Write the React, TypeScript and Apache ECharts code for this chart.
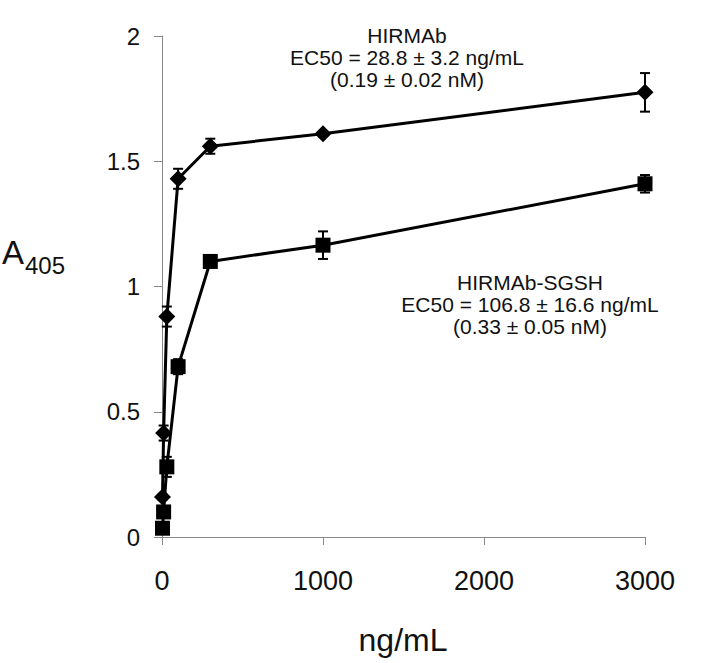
import React, { useEffect, useRef } from "react";
import * as echarts from "echarts";

// concentrations (ng/mL)
const concHIRMAb = [3, 10, 30, 100, 300, 1000, 3000];
const a405HIRMAb = [0.16, 0.415, 0.88, 1.43, 1.56, 1.61, 1.775];
const errHIRMAb = [0.01, 0.03, 0.04, 0.04, 0.03, 0.01, 0.077];

const concSGSH = [3, 10, 30, 100, 300, 1000, 3000];
const a405SGSH = [0.035, 0.1, 0.28, 0.68, 1.1, 1.165, 1.41];
const errSGSH = [0.01, 0.01, 0.04, 0.03, 0.02, 0.055, 0.035];

const xTicks = [0, 1000, 2000, 3000];
const yTicks = [0, 0.5, 1, 1.5, 2];

const FONT = "Arial, 'Liberation Sans', Helvetica, sans-serif";

function errData(xs: number[], ys: number[], es: number[]) {
  return xs.map((x, i) => [x, ys[i] - es[i], ys[i] + es[i]]);
}

function errRender(params: any, api: any) {
  const x = api.value(0);
  const lo = api.coord([x, api.value(1)]);
  const hi = api.coord([x, api.value(2)]);
  const hw = 5;
  const st = { stroke: "#000", lineWidth: 2 };
  return {
    type: "group",
    children: [
      { type: "line", shape: { x1: lo[0], y1: lo[1], x2: hi[0], y2: hi[1] }, style: st },
      { type: "line", shape: { x1: lo[0] - hw, y1: lo[1], x2: lo[0] + hw, y2: lo[1] }, style: st },
      { type: "line", shape: { x1: hi[0] - hw, y1: hi[1], x2: hi[0] + hw, y2: hi[1] }, style: st },
    ],
  };
}

export default function App() {
  const ref = useRef<HTMLDivElement>(null);
  useEffect(() => {
    if (!ref.current) return;
    const chart = echarts.init(ref.current, null, { renderer: "svg" });
    const txt = (s: string, x: number, y: number, size: number, align = "center") => ({
      type: "text",
      x,
      y,
      style: {
        text: s,
        fontSize: size,
        fontFamily: FONT,
        fill: "#111",
        textAlign: align,
        textVerticalAlign: "middle",
      },
    });
    chart.setOption({
      animation: false,
      backgroundColor: "#fff",
      grid: { left: 162, top: 36, width: 483, height: 501, containLabel: false },
      xAxis: {
        type: "value",
        min: xTicks[0],
        max: xTicks[xTicks.length - 1],
        interval: 1000,
        axisLine: { show: true, lineStyle: { color: "#888", width: 1 } },
        axisTick: { show: true, length: 8, lineStyle: { color: "#888" } },
        axisLabel: {
          color: "#111",
          fontSize: 27,
          fontFamily: FONT,
          margin: 30,
          formatter: (v: number) => String(v),
        },
        splitLine: { show: false },
      },
      yAxis: {
        type: "value",
        min: yTicks[0],
        max: yTicks[yTicks.length - 1],
        interval: 0.5,
        axisLine: { show: true, lineStyle: { color: "#888", width: 1 } },
        axisTick: { show: true, length: 8, lineStyle: { color: "#888" } },
        axisLabel: {
          color: "#111",
          fontSize: 24,
          fontFamily: FONT,
          margin: 22,
          formatter: (v: number) => String(v),
        },
        splitLine: { show: false },
      },
      series: [
        {
          type: "custom",
          renderItem: errRender,
          data: errData(concHIRMAb, a405HIRMAb, errHIRMAb),
          encode: { x: 0, y: [1, 2] },
          z: 1,
        },
        {
          type: "custom",
          renderItem: errRender,
          data: errData(concSGSH, a405SGSH, errSGSH),
          encode: { x: 0, y: [1, 2] },
          z: 1,
        },
        {
          type: "line",
          name: "HIRMAb",
          data: concHIRMAb.map((x, i) => [x, a405HIRMAb[i]]),
          symbol: "diamond",
          symbolSize: 17,
          showAllSymbol: true,
          itemStyle: { color: "#000" },
          lineStyle: { color: "#000", width: 3 },
          z: 3,
        },
        {
          type: "line",
          name: "HIRMAb-SGSH",
          data: concSGSH.map((x, i) => [x, a405SGSH[i]]),
          symbol: "rect",
          symbolSize: 15,
          showAllSymbol: true,
          itemStyle: { color: "#000" },
          lineStyle: { color: "#000", width: 3 },
          z: 3,
        },
      ],
      graphic: [
        txt("HIRMAb", 407, 35, 21),
        txt("EC50 = 28.8 ± 3.2 ng/mL", 407, 57, 21),
        txt("(0.19 ± 0.02 nM)", 407, 79, 21),
        txt("HIRMAb-SGSH", 530, 282, 21),
        txt("EC50 = 106.8 ± 16.6 ng/mL", 530, 304, 21),
        txt("(0.33 ± 0.05 nM)", 530, 326, 21),
        txt("A", 2, 252, 33, "left"),
        txt("405", 25, 265, 24, "left"),
        txt("ng/mL", 403, 640, 32),
      ],
    });
    return () => chart.dispose();
  }, []);
  return (
    <div
      ref={ref}
      style={{ position: "fixed", left: 0, top: 0, width: 712, height: 663, background: "#fff" }}
    />
  );
}
